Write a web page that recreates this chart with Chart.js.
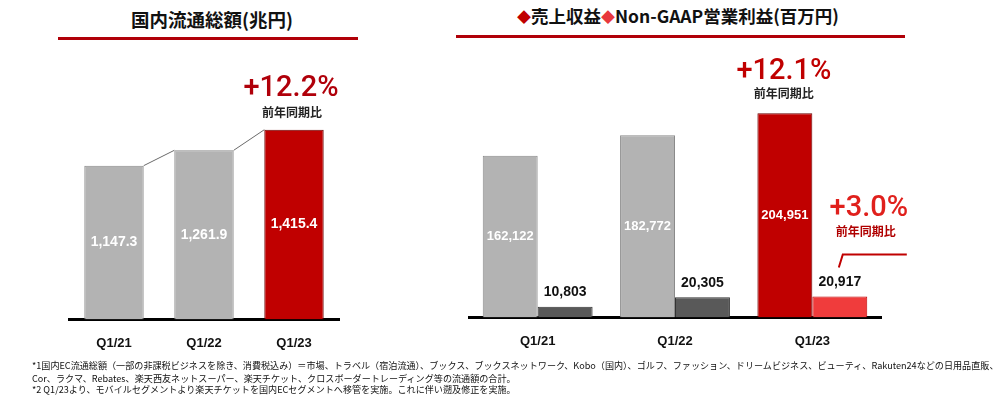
<!DOCTYPE html>
<html><head><meta charset="utf-8">
<script src="https://cdn.jsdelivr.net/npm/chart.js@4.4.0/dist/chart.umd.min.js"></script>
<style>
html,body{margin:0;padding:0;background:#fff;width:1000px;height:398px;overflow:hidden;}
body{position:relative;font-family:"Liberation Sans","Noto Sans CJK JP",sans-serif;}
.title{position:absolute;font-family:"Noto Sans CJK JP","Liberation Sans",sans-serif;font-weight:700;color:#111;white-space:nowrap;line-height:1;}
.rule{position:absolute;height:3px;background:#b00008;}
.note{position:absolute;left:32px;font-family:"Noto Sans CJK JP",sans-serif;font-size:9.1px;color:#111;white-space:nowrap;line-height:1;}
canvas{position:absolute;top:0;}
</style></head>
<body>
<div class="title" id="t1" style="left:131px;top:10px;font-size:18.5px;">国内流通総額(兆円)</div>
<div class="rule" style="left:58px;top:37px;width:300px;"></div>
<div class="title" id="t2" style="left:517px;top:7px;font-size:17.5px;"><span style="color:#c00000;font-size:14px;position:relative;top:-1px;">◆</span>売上収益<span style="color:#e8383d;font-size:14px;position:relative;top:-1px;">◆</span>Non-GAAP営業利益(百万円)</div>
<div class="rule" style="left:456px;top:35px;width:449px;"></div>
<canvas id="c1" width="400" height="377" style="left:0;width:400px;height:377px;"></canvas>
<canvas id="c2" width="600" height="377" style="left:400px;width:600px;height:377px;"></canvas>
<div class="note" style="top:361px;">*1国内EC流通総額（一部の非課税ビジネスを除き、消費税込み）＝市場、トラベル（宿泊流通）、ブックス、ブックスネットワーク、Kobo（国内）、ゴルフ、ファッション、ドリームビジネス、ビューティ、Rakuten24などの日用品直販、</div>
<div class="note" style="top:374px;">Cor、ラクマ、Rebates、楽天西友ネットスーパー、楽天チケット、クロスボーダートレーディング等の流通額の合計。</div>
<div class="note" style="top:385px;">*2 Q1/23より、モバイルセグメントより楽天チケットを国内ECセグメントへ移管を実施。これに伴い遡及修正を実施。</div>
<script>
const categories = ['Q1/21', 'Q1/22', 'Q1/23'];
const gmsValues = [1147.3, 1261.9, 1415.4];
const gmsLabels = ['1,147.3', '1,261.9', '1,415.4'];
const revenueValues = [162122, 182772, 204951];
const opValues = [10803, 20305, 20917];
const gmsGrowth = '+12.2%';
const revenueGrowth = '+12.1%';
const opGrowth = '+3.0%';
const growthCaption = '前年同期比';

const GRAY = '#b3b3b3', RED = '#c00000', DARK = '#595959', BRIGHT = '#f03c3c';
const fmt = v => v.toLocaleString('en-US');
const BASE_FONT = '"Liberation Sans", Arial, sans-serif';
const PCT_FONT = '500 29px Roboto, "Liberation Sans", sans-serif';
const CJK_FONT = '"Noto Sans CJK JP", sans-serif';

function txt(ctx, s, x, y, font, color) {
  ctx.save(); ctx.font = font; ctx.fillStyle = color;
  ctx.textAlign = 'center'; ctx.textBaseline = 'middle';
  ctx.fillText(s, x, y); ctx.restore();
}

const xAxis = {
  grid: { display: false, drawTicks: false },
  border: { display: true, color: '#000', width: 3 },
  ticks: { color: '#111', font: { family: BASE_FONT, size: 13, weight: 'bold' }, padding: 16 }
};

// Left chart
const leftPlugin = {
  id: 'leftDecor',
  afterDatasetsDraw(chart) {
    const ctx = chart.ctx;
    const bars = chart.getDatasetMeta(0).data;
    ctx.save();
    ctx.strokeStyle = '#6a6a6a'; ctx.lineWidth = 1;
    for (let i = 0; i < bars.length - 1; i++) {
      const a = bars[i], b = bars[i + 1];
      ctx.beginPath();
      ctx.moveTo(a.x + a.width / 2, a.y);
      ctx.lineTo(b.x - b.width / 2, b.y);
      ctx.stroke();
    }
    ctx.restore();
    bars.forEach((b, i) => {
      txt(ctx, gmsLabels[i], b.x, (b.y + b.base) / 2, 'bold 14px ' + BASE_FONT, '#fff');
    });
    const last = bars[bars.length - 1];
    txt(ctx, gmsGrowth, last.x - 3, last.y - 41, PCT_FONT, '#b0000a');
    txt(ctx, growthCaption, last.x - 2, last.y - 17, 'bold 12px ' + CJK_FONT, '#222');
  }
};

new Chart(document.getElementById('c1'), {
  type: 'bar',
  data: {
    labels: categories,
    datasets: [{
      data: gmsValues,
      backgroundColor: [GRAY, GRAY, RED],
      borderColor: ['#8a8a8a', '#8a8a8a', '#6a0000'],
      borderWidth: 1,
      barPercentage: 0.66,
      categoryPercentage: 1
    }]
  },
  options: {
    responsive: false, animation: false,
    layout: { padding: { left: 69, right: 61, top: 40, bottom: 10 } },
    plugins: { legend: { display: false }, tooltip: { enabled: false } },
    scales: {
      x: xAxis,
      y: { display: false, min: 0, max: 2085 }
    }
  },
  plugins: [leftPlugin]
});

// Right chart
const rightPlugin = {
  id: 'rightDecor',
  afterDatasetsDraw(chart) {
    const ctx = chart.ctx;
    const rev = chart.getDatasetMeta(0).data;
    const op = chart.getDatasetMeta(1).data;
    rev.forEach((b, i) => {
      txt(ctx, fmt(revenueValues[i]), b.x, (b.y + b.base) / 2, 'bold 13px ' + BASE_FONT, '#fff');
    });
    op.forEach((b, i) => {
      txt(ctx, fmt(opValues[i]), b.x, b.y - 14, 'bold 14px ' + BASE_FONT, '#111');
    });
    const r = rev[rev.length - 1], o = op[op.length - 1];
    txt(ctx, revenueGrowth, r.x - 1, r.y - 41, PCT_FONT, '#c00000');
    txt(ctx, growthCaption, r.x - 1, r.y - 20, 'bold 12px ' + CJK_FONT, '#222');
    txt(ctx, opGrowth, o.x + 29, o.y - 88, PCT_FONT, '#e0201c');
    txt(ctx, growthCaption, o.x + 26, o.y - 65, 'bold 12px ' + CJK_FONT, '#b00000');
    ctx.save();
    ctx.strokeStyle = '#c00000'; ctx.lineWidth = 2;
    ctx.beginPath();
    ctx.moveTo(o.x - 1, o.y - 29);
    ctx.lineTo(o.x + 3, o.y - 42);
    ctx.lineTo(o.x + 67, o.y - 42);
    ctx.stroke();
    ctx.restore();
  }
};

new Chart(document.getElementById('c2'), {
  type: 'bar',
  data: {
    labels: categories,
    datasets: [{
      data: revenueValues,
      backgroundColor: [GRAY, GRAY, RED],
      borderColor: ['#8a8a8a', '#8a8a8a', '#6a0000'],
      borderWidth: 1,
      barPercentage: 1,
      categoryPercentage: 0.8
    }, {
      data: opValues,
      backgroundColor: [DARK, DARK, BRIGHT],
      borderColor: ['#333', '#333', '#c00000'],
      borderWidth: 1,
      barPercentage: 1,
      categoryPercentage: 0.8
    }]
  },
  options: {
    responsive: false, animation: false,
    layout: { padding: { left: 69, right: 119, top: 40, bottom: 12 } },
    plugins: { legend: { display: false }, tooltip: { enabled: false } },
    scales: {
      x: xAxis,
      y: { display: false, min: 0, max: 278400 }
    }
  },
  plugins: [rightPlugin]
});
</script>
</body></html>
